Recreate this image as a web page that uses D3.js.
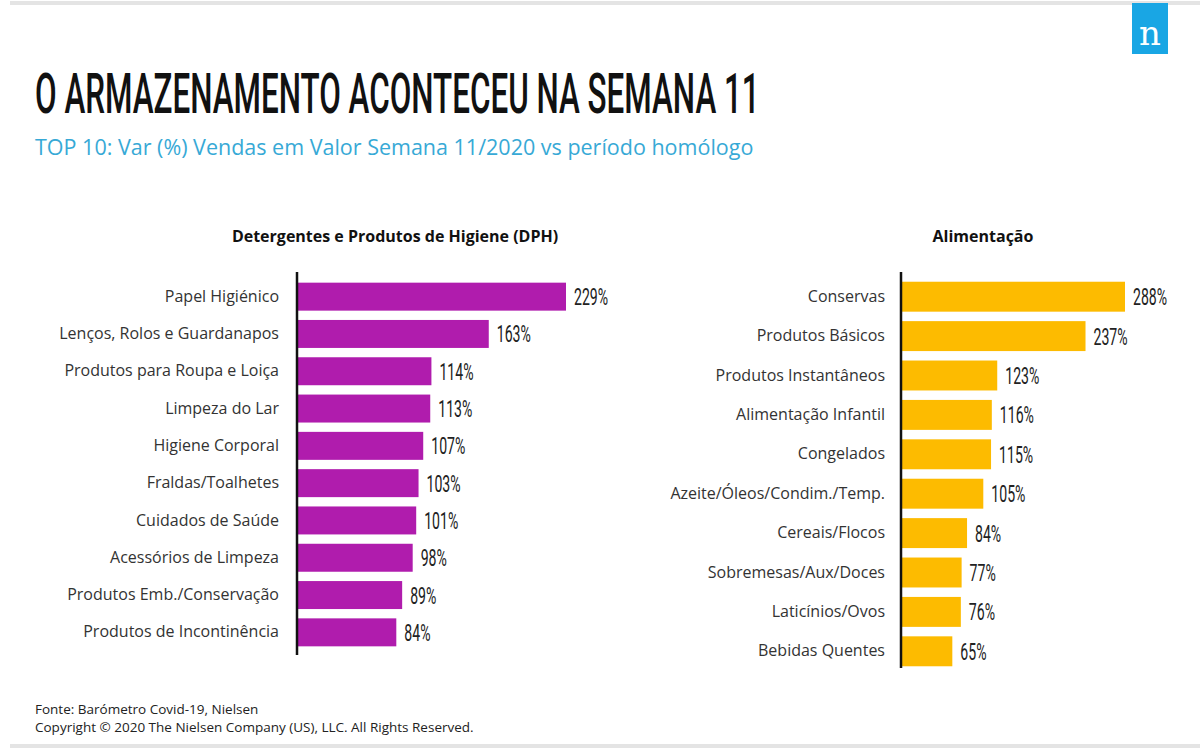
<!DOCTYPE html>
<html><head><meta charset="utf-8">
<script src="https://cdn.jsdelivr.net/npm/d3@7"></script>
<style>body{margin:0;background:#fff}svg{display:block}</style>
</head><body>
<svg id="c" width="1200" height="750"></svg>
<script>
const dphCategories = ["Papel Higiénico","Lenços, Rolos e Guardanapos","Produtos para Roupa e Loiça","Limpeza do Lar","Higiene Corporal","Fraldas/Toalhetes","Cuidados de Saúde","Acessórios de Limpeza","Produtos Emb./Conservação","Produtos de Incontinência"];
const dphValues = [229,163,114,113,107,103,101,98,89,84];
const alimCategories = ["Conservas","Produtos Básicos","Produtos Instantâneos","Alimentação Infantil","Congelados","Azeite/Óleos/Condim./Temp.","Cereais/Flocos","Sobremesas/Aux/Doces","Laticínios/Ovos","Bebidas Quentes"];
const alimValues = [288,237,123,116,115,105,84,77,76,65];
const titleText = "O ARMAZENAMENTO ACONTECEU NA SEMANA 11";
const subtitleText = "TOP 10: Var (%) Vendas em Valor Semana 11/2020 vs período homólogo";
const dphTitle = "Detergentes e Produtos de Higiene (DPH)";
const alimTitle = "Alimentação";
const footer1 = "Fonte: Barómetro Covid-19, Nielsen";
const footer2 = "Copyright © 2020 The Nielsen Company (US), LLC. All Rights Reserved.";

const svg = d3.select("#c");
const sans = "'Open Sans','Noto Sans',sans-serif";
const cond = "Roboto,'Liberation Sans',sans-serif";

// top & bottom gray rules
svg.append("rect").attr("x",10).attr("y",1).attr("width",1190).attr("height",4).attr("fill","#e4e4e4");
svg.append("rect").attr("x",10).attr("y",744).attr("width",1190).attr("height",4).attr("fill","#e4e4e4");

// logo
svg.append("rect").attr("x",1132).attr("y",3).attr("width",36).attr("height",51).attr("fill","#19a6e4");
svg.append("text").attr("x",1150).attr("y",45).attr("text-anchor","middle")
  .attr("font-family","'DejaVu Serif','Liberation Serif',serif").attr("font-size",34).attr("fill","#fff").text("n");

// titles (condensed by horizontal scaling)
const title = svg.append("text").attr("font-family",cond).attr("font-weight",500)
  .attr("font-size",56).attr("fill","#111").text(titleText);
const tl = title.node().getComputedTextLength();
title.attr("transform",`translate(35,113) scale(${725/tl},1)`);
svg.append("text").attr("x",35).attr("y",155).attr("font-family",sans).attr("font-size",21.5)
  .attr("fill","#37a9d6").text(subtitleText);

function panel(cfg){
  const g = svg.append("g");
  const x = d3.scaleLinear().domain([0, cfg.maxV]).range([cfg.x0, cfg.x1]);
  const y = d3.scaleBand().domain(cfg.cats).range([cfg.yTop, cfg.yBot]).paddingInner(cfg.pad).paddingOuter(cfg.pad/2);
  g.selectAll("rect.bar").data(cfg.vals).join("rect").attr("class","bar")
    .attr("x", x(0)).attr("y",(d,i)=>y(cfg.cats[i])).attr("height",y.bandwidth())
    .attr("width",d=>x(d)-x(0)).attr("fill",cfg.color);
  g.selectAll("text.val").data(cfg.vals).join("text").attr("class","val")
    .attr("transform",(d,i)=>`translate(${x(d)+8},${y(cfg.cats[i])+y.bandwidth()/2+8.5}) scale(0.6,1)`)
    .attr("font-family",cond).attr("font-size",23.5).attr("fill","#222")
    .text(d=>d+"%");
  const ax = d3.axisLeft(y).tickSize(0).tickPadding(cfg.labelGap);
  const axg = g.append("g").attr("transform",`translate(${cfg.x0},0)`).call(ax);
  axg.select(".domain").remove();
  axg.selectAll("text").attr("font-family",sans).attr("font-size",16).attr("fill","#333");
  g.append("line").attr("x1",cfg.x0-1).attr("x2",cfg.x0-1).attr("y1",cfg.lineTop).attr("y2",cfg.lineBot)
    .attr("stroke","#111").attr("stroke-width",2.5);
  g.append("text").attr("x",cfg.titleX).attr("y",242).attr("text-anchor","middle")
    .attr("font-family",sans).attr("font-weight","bold").attr("font-size",16).attr("fill","#111").text(cfg.title);
}

panel({cats:dphCategories, vals:dphValues, maxV:229, x0:298, x1:566, yTop:278, yBot:651, pad:0.25,
  color:"#b01cad", labelGap:19, lineTop:272, lineBot:655, title:dphTitle, titleX:395});
panel({cats:alimCategories, vals:alimValues, maxV:288, x0:902, x1:1125, yTop:277, yBot:671, pad:0.24,
  color:"#fdbb00", labelGap:17, lineTop:272, lineBot:668, title:alimTitle, titleX:983});

svg.append("text").attr("x",35).attr("y",714).attr("font-family",sans).attr("font-size",13.5).attr("fill","#222").text(footer1);
svg.append("text").attr("x",35).attr("y",732).attr("font-family",sans).attr("font-size",13.5).attr("fill","#222").text(footer2);
</script>
</body></html>
